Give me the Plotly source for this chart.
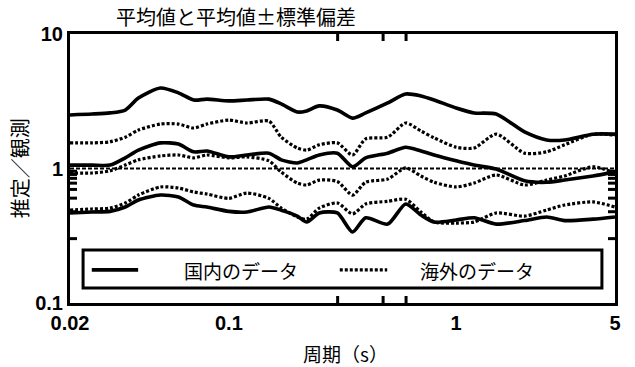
import math
import plotly.graph_objects as go

# ---- data ----
period = [0.02, 0.025, 0.03, 0.035, 0.04, 0.05, 0.06, 0.07, 0.08, 0.1,
          0.12, 0.15, 0.17, 0.2, 0.22, 0.25, 0.3, 0.35, 0.4, 0.5,
          0.6, 0.7, 0.8, 1.0, 1.2, 1.5, 2.0, 2.5, 3.0, 4.0, 5.0]

dom_plus = [2.50, 2.54, 2.59, 2.72, 3.34, 3.97, 3.65, 3.23, 3.28, 3.18,
            3.23, 3.28, 3.02, 2.63, 2.68, 2.92, 2.72, 2.37, 2.59, 3.07,
            3.58, 3.46, 3.23, 2.82, 2.59, 2.54, 1.87, 1.63, 1.63, 1.80, 1.80]
dom_mean = [1.06, 1.06, 1.06, 1.20, 1.37, 1.55, 1.52, 1.33, 1.35, 1.22,
            1.26, 1.30, 1.16, 1.10, 1.16, 1.26, 1.30, 1.03, 1.20, 1.30,
            1.44, 1.35, 1.26, 1.14, 1.06, 0.99, 0.81, 0.79, 0.82, 0.88, 0.94]
dom_minus = [0.467, 0.475, 0.48, 0.517, 0.583, 0.635, 0.614, 0.535, 0.517, 0.48,
             0.475, 0.517, 0.49, 0.443, 0.40, 0.467, 0.467, 0.337, 0.43, 0.386,
             0.545, 0.451, 0.40, 0.414, 0.43, 0.386, 0.41, 0.436, 0.41, 0.42, 0.436]

for_plus = [1.55, 1.55, 1.58, 1.71, 1.93, 2.14, 2.14, 2.00, 2.14, 2.29,
            2.18, 2.25, 1.71, 1.42, 1.37, 1.50, 1.55, 1.26, 1.66, 1.71,
            2.18, 1.90, 1.69, 1.44, 1.42, 1.80, 1.30, 1.33, 1.50, 1.80, 1.77]
for_mean = [0.926, 0.926, 0.96, 1.06, 1.16, 1.24, 1.26, 1.20, 1.26, 1.20,
            1.22, 1.14, 0.94, 0.78, 0.754, 0.82, 0.80, 0.635, 0.79, 0.835,
            1.01, 0.88, 0.79, 0.729, 0.78, 0.895, 0.754, 0.82, 0.88, 1.03, 0.926]
for_minus = [0.491, 0.50, 0.508, 0.554, 0.635, 0.729, 0.716, 0.669, 0.646, 0.60,
             0.657, 0.60, 0.508, 0.436, 0.42, 0.508, 0.554, 0.46, 0.545, 0.57,
             0.59, 0.475, 0.40, 0.393, 0.40, 0.467, 0.443, 0.491, 0.535, 0.564, 0.517]

ref_x = [0.02, 5.0]
ref_y = [1.0, 1.0]

x_tickvals = [0.02, 0.1, 1, 5]
x_ticktext = ["0.02", "0.1", "1", "5"]
x_major_inner = [0.1, 1]
x_minor = [0.03, 0.04, 0.05, 0.06, 0.07, 0.08, 0.09,
           0.2, 0.3, 0.4, 0.5, 0.6, 0.7, 0.8, 0.9, 2, 3, 4]
y_tickvals = [0.1, 1, 10]
y_ticktext = ["0.1", "1", "10"]
y_major_inner = [1]
y_minor = [0.2, 0.3, 0.4, 0.5, 0.6, 0.7, 0.8, 0.9, 2, 3, 4, 5, 6, 7, 8, 9]

name_dom = "国内のデータ"
name_for = "海外のデータ"
title_text = "平均値と平均値±標準偏差"
x_title = "周期（s）"
y_title = "推定／観測"

# ---- figure ----
CJK = "Noto Sans CJK JP"
fig = go.Figure()

solid = dict(color="black", width=3.6, shape="spline", smoothing=0.7)
dotted = dict(color="black", width=3.2, dash="3px,2px", shape="spline", smoothing=0.7)

for ys in [dom_plus, dom_mean, dom_minus]:
    fig.add_trace(go.Scatter(x=period, y=ys, mode="lines", line=solid,
                             name=name_dom, showlegend=False))
for ys in [for_plus, for_mean, for_minus]:
    fig.add_trace(go.Scatter(x=period, y=ys, mode="lines", line=dotted,
                             name=name_for, showlegend=False))
fig.add_trace(go.Scatter(x=ref_x, y=ref_y, mode="lines", showlegend=False,
                         line=dict(color="black", width=2, dash="4px,2px")))

tickfont = dict(family="Liberation Sans", size=20, color="black", weight="bold")
lab_font = dict(family=CJK, size=19, color="black")

# inward tick marks on all four sides, placed through the axis scales
tick_line = dict(color="black", width=3)
shapes = []
for vals, ln in [(x_major_inner, 14), (x_minor, 7)]:
    for v in vals:
        lv = math.log10(v)
        shapes.append(dict(type="line", xref="x", yref="paper", x0=lv, x1=lv,
                           ysizemode="pixel", yanchor=0, y0=0, y1=ln,
                           line=tick_line, layer="above"))
        shapes.append(dict(type="line", xref="x", yref="paper", x0=lv, x1=lv,
                           ysizemode="pixel", yanchor=1, y0=0, y1=-ln,
                           line=tick_line, layer="above"))
for vals, ln in [(y_major_inner, 14), (y_minor, 7)]:
    for v in vals:
        lv = math.log10(v)
        shapes.append(dict(type="line", xref="paper", yref="y", y0=lv, y1=lv,
                           xsizemode="pixel", xanchor=0, x0=0, x1=ln,
                           line=tick_line, layer="above"))
        shapes.append(dict(type="line", xref="paper", yref="y", y0=lv, y1=lv,
                           xsizemode="pixel", xanchor=1, x0=0, x1=-ln,
                           line=tick_line, layer="above"))

# legend box (drawn in paper coordinates)
L, R, T, B = 0.024, 0.976, 0.197, 0.056
ymid = 0.123
shapes += [
    dict(type="rect", xref="paper", yref="paper", x0=L, x1=R, y0=B, y1=T,
         line=dict(color="black", width=3), fillcolor="white", layer="above"),
    dict(type="line", xref="paper", yref="paper", x0=0.040, x1=0.125, y0=ymid, y1=ymid,
         line=dict(color="black", width=3.6), layer="above"),
    dict(type="line", xref="paper", yref="paper", x0=0.495, x1=0.582, y0=ymid, y1=ymid,
         line=dict(color="black", width=3.2, dash="3px,2px"), layer="above"),
]
annotations = [
    dict(text=title_text, xref="paper", yref="paper", x=0.305, y=1.0, yshift=18,
         xanchor="center", yanchor="middle", showarrow=False,
         font=dict(family=CJK, size=20, color="black")),
    dict(text=name_dom, xref="paper", yref="paper", x=0.206, y=ymid, yshift=-1,
         xanchor="left", yanchor="middle", showarrow=False, font=lab_font),
    dict(text=name_for, xref="paper", yref="paper", x=0.638, y=ymid, yshift=-1,
         xanchor="left", yanchor="middle", showarrow=False, font=lab_font),
    dict(text=x_title, xref="paper", yref="paper", x=0.505, y=-0.186,
         xanchor="center", yanchor="middle", showarrow=False,
         font=dict(family=CJK, size=19, color="black")),
    dict(text=y_title, xref="paper", yref="paper", x=-0.092, y=0.50,
         xanchor="center", yanchor="middle", showarrow=False, textangle=-90,
         font=dict(family=CJK, size=20, color="black")),
]

fig.update_layout(
    width=635, height=367,
    margin=dict(l=70, r=20, t=34, b=64),
    paper_bgcolor="white", plot_bgcolor="white",
    showlegend=False,
    xaxis=dict(type="log", range=[-1.69897, 0.69897],
               tickvals=x_tickvals, ticktext=x_ticktext, ticks="",
               showline=True, linewidth=3, linecolor="black", mirror=True,
               showgrid=False, zeroline=False, tickfont=tickfont),
    yaxis=dict(type="log", range=[-1, 1],
               tickvals=y_tickvals, ticktext=y_ticktext, ticks="",
               showline=True, linewidth=3, linecolor="black", mirror=True,
               showgrid=False, zeroline=False, tickfont=tickfont),
    shapes=shapes,
    annotations=annotations,
)

fig.write_html("out.html")
